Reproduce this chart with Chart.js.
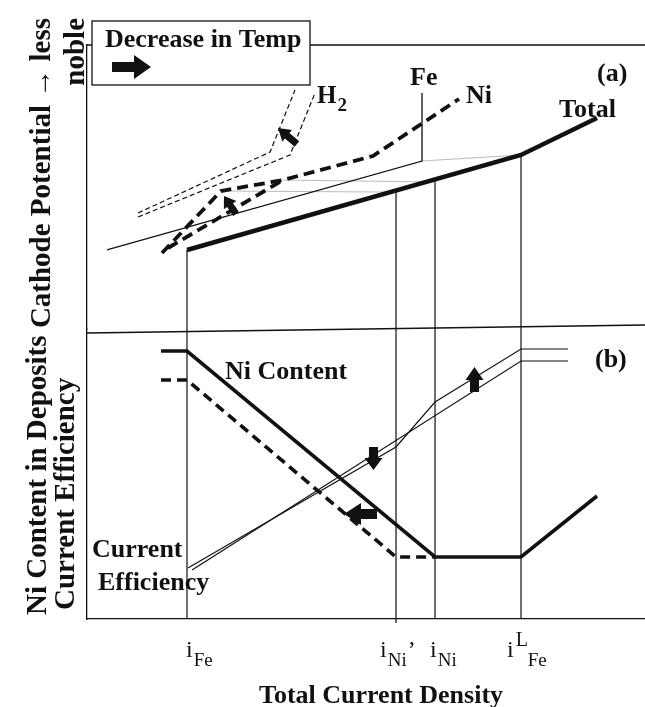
<!DOCTYPE html>
<html><head><meta charset="utf-8">
<script src="https://cdn.jsdelivr.net/npm/chart.js@4.4.1/dist/chart.umd.min.js"></script>
<style>html,body{margin:0;padding:0;background:#fff;}#wrap{width:645px;height:707px;}</style>
</head><body><div id="wrap"><canvas id="c" width="645" height="707"></canvas></div>
<script>
// Schematic units: x = total current density (0..100), yA = cathode potential (0..100), yB = Ni content / current efficiency (0..100)
const markX = [17.92, 55.38, 62.37, 77.78];            // i_Fe, i_Ni', i_Ni, i^L_Fe
const markSub = ['Fe', 'Ni', 'Ni', 'Fe'];
const markSup = ['', '', '', 'L'];
const markPrime = [false, true, false, false];

// panel (a): polarisation curves
const totalX = [17.92, 77.78, 91.40];
const totalY = [27.82, 61.27, 74.30];
const feX = [3.58, 60.04, 60.04];
const feY = [27.82, 59.15, 83.10];
const niHighX = [13.44, 24.01, 35.13, 51.25, 66.67];
const niHighY = [26.76, 48.59, 52.46, 60.92, 80.99];
const niLowX = [14.52, 35.13];
const niLowY = [28.52, 52.46];
const h2aX = [9.14, 32.80, 37.28];
const h2aY = [40.85, 62.32, 84.15];
const h2bX = [9.14, 36.38, 40.86];
const h2bY = [39.44, 61.27, 83.10];
const guide1X = [24.01, 55.38], guide1Y = [48.59, 48.20];
const guide2X = [35.13, 62.37], guide2Y = [52.46, 51.76];
const guide3X = [60.04, 77.78], guide3Y = [59.15, 61.27];
const dropTopA = [27.82, 48.60, 52.60, 61.27];
const dropBottomB = [0, -1.4, 0, 0];

// panel (b): Ni content and current efficiency
const dividerX = [0, 100];
const dividerY = [98.62, 101.38];
const niContentX = [13.26, 17.92, 62.37, 77.78, 91.40];
const niContentY = [92.41, 92.41, 21.38, 21.38, 42.41];
const niContentLowX = [13.26, 17.92, 55.38, 62.37];
const niContentLowY = [82.41, 82.41, 21.38, 21.38];
const ceAX = [18.10, 55.38, 62.37, 77.78, 86.20];
const ceAY = [17.59, 59.31, 74.83, 93.10, 93.10];
const ceBX = [18.82, 77.78, 86.20];
const ceBY = [16.90, 88.97, 88.97];

const pts = (xs, ys) => xs.map((x, i) => ({x, y: ys[i]}));
const INK = '#111';
function ds(xs, ys, axis, w, dash, color) {
  return {data: pts(xs, ys), yAxisID: axis, showLine: true, borderColor: color || INK,
    borderWidth: w, borderDash: dash || [], pointRadius: 0, pointHoverRadius: 0, fill: false,
    tension: 0, borderCapStyle: 'butt', borderJoinStyle: 'miter', clip: false};
}
const datasets = [
  ds(totalX, totalY, 'yA', 4.5),
  ds(feX, feY, 'yA', 1.3),
  ds(niHighX, niHighY, 'yA', 3.8, [11, 6]),
  ds(niLowX, niLowY, 'yA', 3.8, [11, 6]),
  ds(h2aX, h2aY, 'yA', 1.2, [5, 3]),
  ds(h2bX, h2bY, 'yA', 1.2, [5, 3]),
  ds(guide1X, guide1Y, 'yA', 0.8, [], '#aaa'),
  ds(guide2X, guide2Y, 'yA', 0.8, [], '#aaa'),
  ds(guide3X, guide3Y, 'yA', 0.8, [], '#aaa'),
  ds(dividerX, dividerY, 'yB', 1.3),
  ds(niContentX, niContentY, 'yB', 3.6),
  ds(niContentLowX, niContentLowY, 'yB', 3.6, [10, 6]),
  ds(ceAX, ceAY, 'yB', 1.2),
  ds(ceBX, ceBY, 'yB', 1.2),
];
markX.forEach((x, i) => {
  datasets.push(ds([x, x], [dropTopA[i], 0], 'yA', 1.2));
  datasets.push(ds([x, x], [100, dropBottomB[i]], 'yB', 1.2));
});

const SERIF = '"Liberation Serif", "Times New Roman", serif';
const labels = [
  {t: 'Fe', x: 57.89, y: 85.92, ax: 'yA'},
  {t: 'Ni', x: 67.92, y: 79.58, ax: 'yA'},
  {t: 'Total', x: 84.59, y: 74.65, ax: 'yA'},
  {t: '(a)', x: 91.40, y: 87.32, ax: 'yA'},
  {t: 'Ni Content', x: 24.73, y: 82.76, ax: 'yB'},
  {t: '(b)', x: 91.04, y: 86.90, ax: 'yB'},
  {t: 'Current', x: 0.90, y: 21.38, ax: 'yB'},
  {t: 'Efficiency', x: 1.97, y: 10.0, ax: 'yB'},
];
const arrows = [
  {ax: 'yA', from: [37.63, 65.14], to: [34.23, 70.77], sw: 3.5, hw: 7.5, hl: 12},
  {ax: 'yA', from: [26.70, 40.49], to: [24.55, 46.83], sw: 3.5, hw: 7.5, hl: 11},
  {ax: 'yB', from: [51.97, 36.21], to: [46.06, 36.21], sw: 5, hw: 11, hl: 17},
  {ax: 'yB', from: [69.44, 78.28], to: [69.44, 86.90], sw: 4.5, hw: 9, hl: 13},
  {ax: 'yB', from: [51.34, 59.31], to: [51.34, 51.38], sw: 4.5, hw: 9, hl: 12},
];
const tickOffset = [-1, -16, -5, -14];

function drawArrow(ctx, tx, ty, px, py, sw, hw, hl) {
  const dx = px - tx, dy = py - ty, L = Math.hypot(dx, dy);
  const ux = dx / L, uy = dy / L, nx = -uy, ny = ux;
  const bx = px - ux * hl, by = py - uy * hl;
  ctx.beginPath();
  ctx.moveTo(tx + nx * sw, ty + ny * sw);
  ctx.lineTo(bx + nx * sw, by + ny * sw);
  ctx.lineTo(bx + nx * hw, by + ny * hw);
  ctx.lineTo(px, py);
  ctx.lineTo(bx - nx * hw, by - ny * hw);
  ctx.lineTo(bx - nx * sw, by - ny * sw);
  ctx.lineTo(tx - nx * sw, ty - ny * sw);
  ctx.closePath();
  ctx.fill();
}
function vtext(ctx, s, x, y, align) {
  ctx.save(); ctx.translate(x, y); ctx.rotate(-Math.PI / 2);
  ctx.textAlign = align; ctx.fillText(s, 0, 0); ctx.restore();
}

const annot = {
  id: 'annot',
  afterDatasetsDraw(chart) {
    const {ctx, chartArea: ca, scales} = chart;
    const X = v => scales.x.getPixelForValue(v);
    ctx.save();
    ctx.fillStyle = INK; ctx.strokeStyle = INK; ctx.textBaseline = 'alphabetic';
    // top frame
    ctx.lineWidth = 1.3;
    ctx.beginPath(); ctx.moveTo(ca.left - 0.6, ca.top); ctx.lineTo(ca.right, ca.top); ctx.stroke();
    // temperature legend box
    const bx = ca.left + 5, by = ca.top - 24, bw = 218, bh = 64;
    ctx.fillStyle = '#fff'; ctx.fillRect(bx, by, bw, bh);
    ctx.strokeRect(bx, by, bw, bh);
    ctx.fillStyle = INK;
    ctx.font = 'bold 26px ' + SERIF; ctx.textAlign = 'left';
    ctx.fillText('Decrease in Temp', bx + 13, by + 26);
    drawArrow(ctx, bx + 20, by + 46, bx + 59, by + 46, 5, 12, 17);
    // in-plot labels
    labels.forEach(l => {
      ctx.fillText(l.t, X(l.x), scales[l.ax].getPixelForValue(l.y));
    });
    // H2
    const hx = X(41.22), hy = scales.yA.getPixelForValue(79.58);
    ctx.font = 'bold 25px ' + SERIF; ctx.fillText('H', hx, hy);
    const hw = ctx.measureText('H').width;
    ctx.font = 'bold 19px ' + SERIF; ctx.fillText('2', hx + hw + 1, hy + 8);
    // arrows
    arrows.forEach(a => {
      const s = scales[a.ax];
      drawArrow(ctx, X(a.from[0]), s.getPixelForValue(a.from[1]), X(a.to[0]), s.getPixelForValue(a.to[1]), a.sw, a.hw, a.hl);
    });
    // tick labels i_Fe etc.
    const base = ca.bottom + 38;
    markX.forEach((m, i) => {
      const x0 = X(m) + tickOffset[i];
      ctx.font = '24px ' + SERIF; ctx.fillText('i', x0, base);
      const wi = ctx.measureText('i').width;
      let sx = x0 + wi + 1;
      if (markSup[i]) {
        ctx.font = '20px ' + SERIF; ctx.fillText(markSup[i], sx + 1, base - 11);
        sx += 13;
      }
      ctx.font = '19px ' + SERIF; ctx.fillText(markSub[i], sx, base + 9);
      const ws = ctx.measureText(markSub[i]).width;
      if (markPrime[i]) { ctx.font = '24px ' + SERIF; ctx.fillText('\u2019', sx + ws + 1, base); }
    });
    // axis titles
    ctx.font = 'bold 26px ' + SERIF; ctx.textAlign = 'center';
    ctx.fillText('Total Current Density', (ca.left + ca.right) / 2 + 15, ca.bottom + 84);
    ctx.font = 'bold 29px ' + SERIF;
    vtext(ctx, 'Cathode Potential \u2192 less', ca.left - 37, ca.top - 27, 'right');
    vtext(ctx, 'noble', ca.left - 3, ca.top - 27, 'right');
    vtext(ctx, 'Ni Content in Deposits', ca.left - 41, ca.bottom - 4, 'left');
    vtext(ctx, 'Current Efficiency', ca.left - 13, ca.bottom - 9, 'left');
    ctx.restore();
  }
};

const hidden = {ticks: {display: false}, grid: {display: false, drawTicks: false}, border: {display: true, color: INK, width: 1.3}};
new Chart(document.getElementById('c'), {
  type: 'scatter',
  data: {datasets},
  options: {
    responsive: false, animation: false, devicePixelRatio: 1,
    layout: {padding: {left: 87, top: 45, right: 0, bottom: 88}},
    plugins: {legend: {display: false}, tooltip: {enabled: false}},
    events: [],
    scales: {
      x: Object.assign({type: 'linear', min: 0, max: 100}, hidden),
      yB: Object.assign({type: 'linear', position: 'left', stack: 'panels', stackWeight: 290, min: 0, max: 100}, hidden),
      yA: Object.assign({type: 'linear', position: 'left', stack: 'panels', stackWeight: 284, min: 0, max: 100}, hidden),
    }
  },
  plugins: [annot]
});
</script></body></html>
